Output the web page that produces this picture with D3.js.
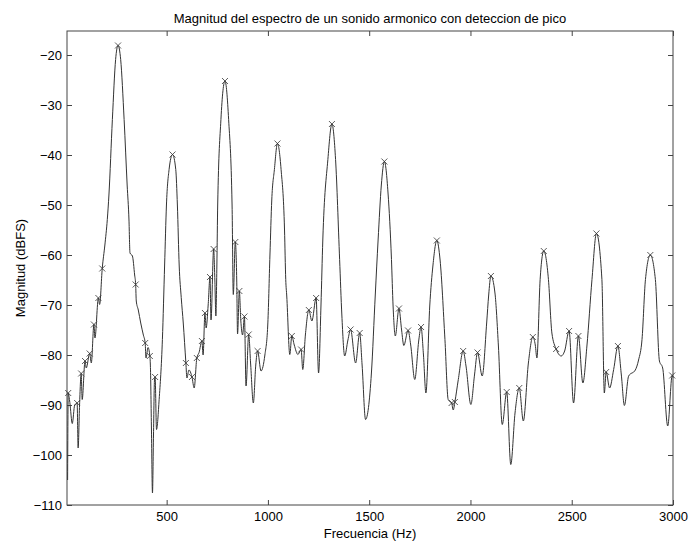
<!DOCTYPE html>
<html lang="es">
<head>
<meta charset="UTF-8">
<script src="https://d3js.org/d3.v7.min.js"></script>
<style>
  html, body { margin: 0; padding: 0; background: #fff; overflow: hidden; }
  svg { display: block; }
  text { font-family: "Liberation Sans", Arial, sans-serif; fill: #000; }
</style>
</head>
<body>
<div id="chart"></div>
<script>
// Spectrum curve (Hz, dBFS)
const freq = [11, 14, 22, 34, 46, 58, 63, 70, 78, 83, 97, 103, 120, 128, 141, 146, 163, 169, 182, 195, 207, 215, 232, 248, 260, 273, 290, 305, 314, 319, 331, 342, 347, 350, 360, 372, 385, 394, 398, 408, 417, 420, 425, 430, 435, 440, 443, 450, 463, 479, 490, 499, 512, 529, 545, 553, 562, 572, 582, 595, 600, 610, 625, 636, 649, 660, 674, 680, 689, 695, 705, 714, 719, 732, 738, 743, 748, 752, 768, 788, 806, 823, 829, 839, 846, 850, 859, 866, 875, 884, 892, 905, 915, 928, 940, 949, 966, 985, 999, 1010, 1019, 1032, 1047, 1065, 1082, 1088, 1093, 1108, 1118, 1130, 1148, 1164, 1172, 1185, 1202, 1217, 1238, 1250, 1262, 1271, 1296, 1316, 1334, 1354, 1365, 1379, 1395, 1408, 1433, 1453, 1465, 1482, 1511, 1530, 1544, 1560, 1575, 1593, 1610, 1618, 1629, 1647, 1660, 1671, 1692, 1705, 1725, 1745, 1756, 1768, 1780, 1799, 1815, 1834, 1850, 1874, 1890, 1907, 1915, 1923, 1940, 1964, 1978, 2002, 2020, 2035, 2058, 2080, 2090, 2101, 2121, 2138, 2157, 2179, 2199, 2220, 2241, 2261, 2286, 2308, 2320, 2328, 2344, 2362, 2385, 2402, 2423, 2448, 2465, 2487, 2509, 2533, 2555, 2575, 2600, 2622, 2649, 2661, 2670, 2687, 2707, 2728, 2745, 2760, 2781, 2814, 2830, 2847, 2864, 2888, 2913, 2933, 2949, 2974, 2996, 3000];
const magnitude = [-105, -87.6, -89.5, -93.7, -90, -89.6, -98.6, -90, -83.7, -88.9, -81.2, -82.6, -79.7, -81.6, -73.9, -76.6, -68.6, -69.9, -62.7, -58, -52.9, -48, -32.9, -20.9, -18.1, -20.9, -32.9, -46, -53, -59.6, -60.2, -64, -65.9, -69.2, -71, -73.6, -76, -77.6, -80.6, -78.5, -80.2, -82.5, -95, -107.6, -96, -85, -84.4, -94.9, -88.9, -76.9, -62, -50, -42.9, -39.9, -42.9, -50, -62.2, -68.5, -73.6, -81.6, -84.6, -83, -84.4, -86.6, -80.6, -79.5, -77.2, -80, -71.6, -74.6, -70, -64.4, -73, -58.8, -65, -72.2, -62, -50, -32.9, -25.2, -32.9, -50, -67.9, -57.4, -65, -75.8, -67.2, -73, -76, -72.3, -86.2, -75.9, -82, -89.6, -82, -79.2, -83.2, -80, -74.2, -60, -49, -42.9, -37.7, -42.9, -55, -64.9, -68.2, -79.9, -76.2, -78, -79.9, -78.9, -82.9, -76, -71, -73.2, -68.6, -83.6, -70, -57, -40.9, -33.8, -40.9, -60.9, -72, -80.2, -77, -74.9, -81.6, -75.6, -82, -92.9, -83.6, -68, -57, -46, -41.3, -47.6, -60.9, -70.2, -76.2, -70.7, -75, -78.1, -75.1, -78, -84.9, -77, -74.4, -80, -87.6, -70.2, -62, -57.1, -61, -76.9, -88.9, -89.6, -91, -89.4, -84.9, -79.2, -82.2, -89.9, -84, -79.5, -84.2, -73.6, -68, -64.2, -67.6, -78.2, -93.9, -87.4, -101.9, -91.6, -86.6, -93.2, -81.6, -76.4, -78, -80.6, -64.9, -59.2, -64.9, -75.6, -78.8, -80.2, -79.2, -75.2, -89.6, -76.2, -85.6, -78.2, -64.9, -55.7, -64.9, -87.6, -83.4, -86.6, -82.9, -78.2, -84, -90.1, -84.2, -83, -81, -76.9, -64.9, -60, -64.9, -81.2, -82.6, -94.2, -84.1, -84.5];

// Detected peaks (x markers)
const peakFreq = [14, 58, 78, 97, 120, 141, 163, 182, 260, 347, 394, 417, 443, 529, 595, 625, 649, 674, 689, 714, 732, 788, 839, 859, 884, 905, 949, 1047, 1118, 1164, 1202, 1238, 1316, 1408, 1453, 1575, 1647, 1692, 1756, 1834, 1907, 1923, 1964, 2035, 2101, 2179, 2241, 2308, 2362, 2423, 2487, 2533, 2622, 2670, 2728, 2888, 2996];
const peakMag = [-87.6, -89.6, -83.7, -81.2, -79.7, -73.9, -68.6, -62.7, -18.1, -65.9, -77.6, -80.2, -84.4, -39.9, -81.6, -84.4, -80.6, -77.2, -71.6, -64.4, -58.8, -25.2, -57.4, -67.2, -72.3, -75.9, -79.2, -37.7, -76.2, -78.9, -71, -68.6, -33.8, -74.9, -75.6, -41.3, -70.7, -75.1, -74.4, -57.1, -89.6, -89.4, -79.2, -79.5, -64.2, -87.4, -86.6, -76.4, -59.2, -78.8, -75.2, -76.2, -55.7, -83.4, -78.2, -60, -84.1];

const xTicks = [500, 1000, 1500, 2000, 2500, 3000];
const yTicks = [-20, -30, -40, -50, -60, -70, -80, -90, -100, -110];

const width = 689;
const height = 547;
const margin = { top: 31, right: 16, bottom: 42, left: 67 };
const innerWidth = width - margin.left - margin.right;
const innerHeight = height - margin.top - margin.bottom;
const fontSize = "13px";

const svg = d3.select("#chart")
    .append("svg")
    .attr("width", width)
    .attr("height", height);

svg.append("rect")
    .attr("width", width)
    .attr("height", height)
    .attr("fill", "#fff");

const g = svg.append("g")
    .attr("transform", `translate(${margin.left},${margin.top})`);

// Scales
const x = d3.scaleLinear().domain([8, 3000]).range([0, innerWidth]);
const y = d3.scaleLinear().domain([-110, -15.2]).range([innerHeight, 0]);

// Axes, MATLAB style: ticks pointing inside on all four sides
const styleAxis = sel => {
    sel.select(".domain").remove();
    sel.selectAll(".tick line").attr("stroke", "#444");
    sel.selectAll("text")
        .style("font-family", "Liberation Sans, Arial, sans-serif")
        .style("font-size", fontSize)
        .attr("fill", "#000");
};
const ticksOnly = sel => {
    sel.select(".domain").remove();
    sel.selectAll(".tick text").remove();
    sel.selectAll(".tick line").attr("stroke", "#444");
};

g.append("g")
    .attr("transform", `translate(0,${innerHeight})`)
    .call(d3.axisBottom(x).tickValues(xTicks).tickFormat(d3.format("d"))
        .tickSizeInner(-5).tickSizeOuter(0).tickPadding(7))
    .call(styleAxis);

g.append("g")
    .call(d3.axisTop(x).tickValues(xTicks).tickSizeInner(-5).tickSizeOuter(0))
    .call(ticksOnly);

g.append("g")
    .call(d3.axisLeft(y).tickValues(yTicks).tickFormat(d3.format("d"))
        .tickSizeInner(-5).tickSizeOuter(0).tickPadding(5))
    .call(styleAxis);

g.append("g")
    .attr("transform", `translate(${innerWidth},0)`)
    .call(d3.axisRight(y).tickValues(yTicks).tickSizeInner(-5).tickSizeOuter(0))
    .call(ticksOnly);

g.append("rect")
    .attr("width", innerWidth)
    .attr("height", innerHeight)
    .attr("fill", "none")
    .attr("stroke", "#444")
    .attr("stroke-width", 1);

// Spectrum line
const points = freq.map((f, i) => [f, magnitude[i]]);
const line = d3.line()
    .x(d => x(d[0]))
    .y(d => y(d[1]))
    .curve(d3.curveMonotoneX);

g.append("path")
    .datum(points)
    .attr("fill", "none")
    .attr("stroke", "#333")
    .attr("stroke-width", 1)
    .attr("d", line);

// Peak markers
const peaks = peakFreq.map((f, i) => [f, peakMag[i]]);
const s = 3;
g.selectAll(".peak")
    .data(peaks)
    .join("path")
    .attr("class", "peak")
    .attr("transform", d => `translate(${x(d[0])},${y(d[1])})`)
    .attr("d", `M${-s},${-s}L${s},${s}M${-s},${s}L${s},${-s}`)
    .attr("stroke", "#333")
    .attr("stroke-width", 0.8);

// Titles
svg.append("text")
    .attr("x", margin.left + innerWidth / 2)
    .attr("y", margin.top - 8)
    .attr("text-anchor", "middle")
    .style("font-size", fontSize)
    .text("Magnitud del espectro de un sonido armonico con deteccion de pico");

svg.append("text")
    .attr("x", margin.left + innerWidth / 2)
    .attr("y", height - 9)
    .attr("text-anchor", "middle")
    .style("font-size", fontSize)
    .text("Frecuencia (Hz)");

svg.append("text")
    .attr("transform", `translate(25,${margin.top + innerHeight / 2}) rotate(-90)`)
    .attr("text-anchor", "middle")
    .style("font-size", fontSize)
    .text("Magnitud (dBFS)");
</script>
</body>
</html>
